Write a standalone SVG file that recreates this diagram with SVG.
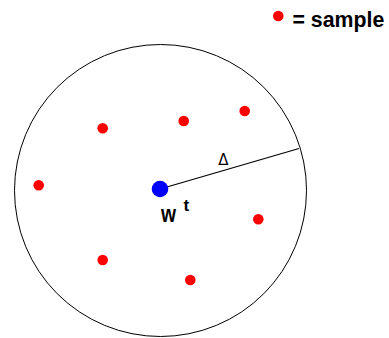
<svg xmlns="http://www.w3.org/2000/svg" width="389" height="338" viewBox="0 0 389 338">
<style>
.s{fill:#ff0000}
.lbl{font-family:"Liberation Sans",Arial,sans-serif;font-weight:bold;fill:#000}
</style>
<rect width="389" height="338" fill="#fff"/>
<g id="region">
<circle cx="160.5" cy="190.5" r="146" fill="none" stroke="#000" stroke-width="1"/>
</g>
<g id="connectors">
<line x1="160" y1="189" x2="299" y2="148.5" stroke="#000" stroke-width="1.2"/>
</g>
<g id="delta-label"><text style="font-family:'DejaVu Sans',sans-serif;fill:#000" x="223.4" y="165" font-size="15" text-anchor="middle">Δ</text></g>
<g id="center">
<circle cx="160" cy="189" r="8.3" fill="#0000ff"/>
<text class="lbl" x="161" y="221.7" font-size="24" textLength="15" lengthAdjust="spacingAndGlyphs">w</text>
<text class="lbl" x="183.6" y="211.2" font-size="17">t</text>
</g>
<g id="samples">
<circle class="s" cx="102.7" cy="128.3" r="5.3"/>
<circle class="s" cx="183.7" cy="121" r="5.3"/>
<circle class="s" cx="244.7" cy="111" r="5.3"/>
<circle class="s" cx="38.7" cy="185.3" r="5.3"/>
<circle class="s" cx="258.3" cy="219.3" r="5.3"/>
<circle class="s" cx="102.7" cy="260" r="5.3"/>
<circle class="s" cx="190.3" cy="280" r="5.3"/>
</g>
<g id="legend">
<circle class="s" cx="278.3" cy="16" r="5.3"/>
<text class="lbl" x="292.5" y="26.7" font-size="21.3">= sample</text>
</g>
</svg>
